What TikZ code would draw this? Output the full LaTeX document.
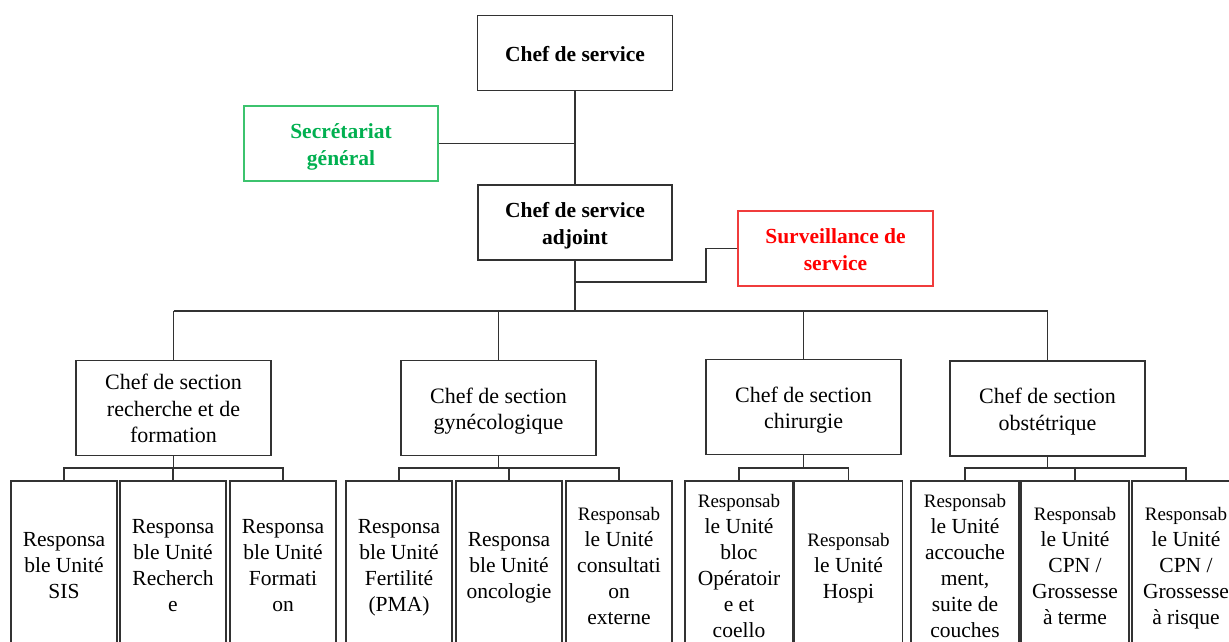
\documentclass[tikz,border=0pt]{standalone}
\usepackage{fontspec}
\setmainfont{Liberation Serif}
\definecolor{sgreen}{RGB}{0,176,80}
\definecolor{sgreenb}{RGB}{60,195,110}
\definecolor{sred}{RGB}{255,0,0}
\definecolor{sredb}{RGB}{240,60,60}
\definecolor{lin}{RGB}{50,50,50}
\newcommand\myRb{{\fontsize{19}{26}\selectfont Responsab}}
\newcommand\sT{\rule{0pt}{22.5pt}}
\newcommand\sB{\rule[-6pt]{0pt}{6pt}}
\begin{document}
\begin{tikzpicture}[x=1pt,y=-1pt,
 box/.style={draw=lin, line width=1.1pt, inner sep=0pt, align=center, font=\fontsize{21.5}{26}\selectfont},
 topbox/.style={box, font=\fontsize{21.5}{26.5}\selectfont\bfseries, minimum width=195pt, minimum height=75pt},
 secbox/.style={box, font=\fontsize{22}{26.5}\selectfont, minimum width=195pt, minimum height=95pt},
 unitbox/.style={box, minimum width=106pt, minimum height=166pt, font=\fontsize{21.5}{26}\selectfont},
 wunitbox/.style={unitbox, minimum width=108pt},
 link/.style={draw=lin, line width=1.1pt}]
\useasboundingbox (0,0) rectangle (1229,641);
\clip (0,0) rectangle (1229,641);
\fill[white] (0,0) rectangle (1229,641);
% top level
\node[topbox] (cs) at (575,53) {\sT Chef de service\sB};
\node[topbox, draw=sgreenb, text=sgreen, minimum width=194pt] (sg) at (341,143.5) {\sT Secrétariat\\général\sB};
\node[topbox, minimum width=194pt] (csa) at (575,222.5) {\sT Chef de service\\adjoint\sB};
\node[topbox, draw=sredb, text=sred] (sv) at (835.5,248.5) {\sT Surveillance de\\service\sB};
% sections
\node[secbox] (s1) at (173.5,408) {\sT Chef de section\\recherche et de\\formation\sB};
\node[secbox] (s2) at (498.5,408) {\sT Chef de section\\gynécologique\sB};
\node[secbox] (s3) at (803.5,407) {\sT Chef de section\\chirurgie\sB};
\node[secbox] (s4) at (1047.5,408.5) {\sT Chef de section\\obstétrique\sB};
% units
\node[unitbox] (u11) at (64,564) {\sT Responsa\\ble Unité\\SIS\sB};
\node[unitbox] (u12) at (173,564) {\sT Responsa\\ble Unité\\Recherch\\e\sB};
\node[unitbox] (u13) at (283,564) {\sT Responsa\\ble Unité\\Formati\\on\sB};
\node[unitbox] (u21) at (399,564) {\sT Responsa\\ble Unité\\Fertilité\\(PMA)\sB};
\node[unitbox] (u22) at (509,564) {\sT Responsa\\ble Unité\\oncologie\sB};
\node[unitbox] (u23) at (619,564) {\sT\myRb\\le Unité\\consultati\\on\\externe\sB};
\node[wunitbox] (u31) at (739,564) {\sT\myRb\\le Unité\\bloc\\Opératoir\\e et\\coello\sB};
\node[wunitbox] (u32) at (848.5,564) {\sT\myRb\\le Unité\\Hospi\sB};
\node[wunitbox] (u41) at (965,564) {\sT\myRb\\le Unité\\accouche\\ment,\\suite de\\couches\sB};
\node[wunitbox] (u42) at (1075,564) {\sT\myRb\\le Unité\\CPN /\\Grossesse\\à terme\sB};
\node[wunitbox] (u43) at (1186,564) {\sT\myRb\\le Unité\\CPN /\\Grossesse\\à risque\sB};
% helper coordinates
\coordinate (t) at (575,311);
\coordinate (svj) at (706,282);
\coordinate (svm) at (575,282);
\coordinate (yb) at (0,468);
% connectors
\draw[link] (cs.south) -- (csa.north);
\draw[link] (sg.east) -- (sg.east -| cs.south);
\draw[link] (csa.south) -- (t);
\draw[link] (sv.west) -| (svj) -- (svm);
\draw[link] (s1.north |- t) -- (s4.north |- t);
\foreach \s in {s1,s2,s3,s4} { \draw[link] (\s.north |- t) -- (\s.north); }
% brackets
\draw[link] (s1.south) -- (s1.south |- yb);
\draw[link] (u11.north) |- (u13.north |- yb) -- (u13.north);
\draw[link] (u12.north) -- (u12.north |- yb);
\draw[link] (s2.south) -- (s2.south |- yb);
\draw[link] (u21.north) |- (u23.north |- yb) -- (u23.north);
\draw[link] (u22.north) -- (u22.north |- yb);
\draw[link] (s3.south) -- (s3.south |- yb);
\draw[link] (u31.north) |- (u32.north |- yb) -- (u32.north);
\draw[link] (s4.south) -- (s4.south |- yb);
\draw[link] (u41.north) |- (u43.north |- yb) -- (u43.north);
\draw[link] (u42.north) -- (u42.north |- yb);
\end{tikzpicture}
\end{document}
